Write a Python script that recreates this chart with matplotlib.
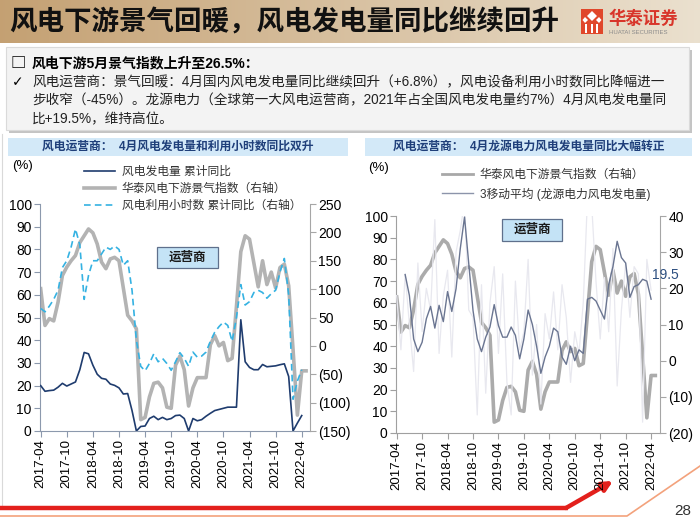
import matplotlib
matplotlib.use("Agg")
import matplotlib.pyplot as plt
import numpy as np
import pandas as pd
from matplotlib.lines import Line2D
from matplotlib.patches import Polygon, Rectangle
from matplotlib.ticker import FuncFormatter, MultipleLocator

plt.rcParams["font.family"] = ["Liberation Sans", "Noto Sans CJK SC", "DejaVu Sans"]

# monthly axis, 2017-04 .. 2022-05
months = pd.date_range("2017-04-01", "2022-05-01", freq="MS")
tick_labels = [d.strftime("%Y-%m") for d in months[::6]]

# 风电发电量 累计同比 (%), 2017-04 .. 2022-04
gen_yoy = [20, 17.5, 17.8, 18, 19.3, 21, 19.8, 20.7, 21.6, 27,
           34.6, 34, 29, 25, 23.2, 22.8, 20.7, 20.1, 19, 16.3,
           16.5, 9, 0, 2, 2.2, 5.5, 6.5, 5, 6, 5,
           5.5, 6.8, 7, 5.5, 0, 5.5, 4.5, 5, 6.5, 7.8,
           9, 9.5, 10, 10.5, 10.5, 10.5, 49, 30.5, 28, 27,
           27, 29.3, 28.3, 28.5, 28.7, 29.2, 29.6, 24, 0, 3.5,
           6.8]

# 华泰风电下游景气指数, 2017-04 .. 2022-05
wind_index = [62.7, 46.5, 49.5, 48.5, 56.8, 68.5, 72.2, 75, 77.3, 83,
              86, 89, 87.3, 82.4, 74.4, 71.5, 75.8, 76.5, 75, 63,
              51, 48.5, 45, 5, 6, 15, 21, 21.5, 19, 10.5,
              10, 29, 33, 27, 11, 19, 23.5, 23.5, 23.5, 38,
              42, 37.5, 39, 31, 32, 55, 79, 86, 84.5, 74,
              63.5, 75, 64.5, 70, 63, 72, 73.5, 64, 36, 7,
              26.5, 26.5]

# 风电利用小时数 累计同比 (%, right axis), 2017-04 .. 2022-04
hours_yoy = [66, 60, 70, 82, 98, 138, 150, 174, 206, 178,
             82, 124, 150, 150, 162, 174, 170, 176, 170, 142,
             150, 98, 10, -36, -44, -31, -14, -28, -22, -31,
             -43, -28, -12, -22, -36, -11, -20, -18, -11, 8,
             24, 34, 42, 36, 8, 50, 108, 72, 78, 94,
             98, 94, 84, 92, 98, 130, 154, 90, -94, -62,
             -42]

# 龙源电力风电发电量 同比 (%), monthly and 3-month moving average
longyuan_yoy = [18, 3, 24, 10, -3, 27, 8, 20, 14, 39,
                2, 18, 25, 1, 30, 36, 44, 14, 12, -15,
                21, -9, 16, 26, 2, 24, -6, -15, 22, 3,
                8, 28, -4, 10, -12, 13, 6, 19, 3, 21,
                12, -6, 8, 2, 16, 45, 43, 22, 6, 23,
                8, 31, -7, 14, 27, 12, 26, 24, -17, 28,
                19.5]
longyuan_ma3 = [np.nan, np.nan, 23.8, 18, 6, 2.5, 5.1, 11.6, 15, 9,
                15.3, 10.8, 19.1, 13.6, 19.9, 31, 39.7, 26.8, 13.9, 6,
                2.5, 6.5, 9.3, 15.5, 9.7, 6.5, 6.5, 9.3, 7, 0.5,
                6, 14, 10, 4, -3.5, 1, 4, 9, 8, 1,
                -1, 4, 0, 3, 2, 17, 17.5, 16.5, 14, 11.5,
                21, 26, 33, 28.5, 27, 17.5, 20.5, 21, 22.5, 22,
                17]

W, H = 700, 525
fig = plt.figure(figsize=(7, 5.25), dpi=100)

bg = fig.add_axes([0, 0, 1, 1])
bg.axis("off")


def axes_px(x0, y0, x1, y1):
    ax = fig.add_axes([x0 / W, 1 - y1 / H, (x1 - x0) / W, (y1 - y0) / H])
    ax.patch.set_visible(False)
    return ax


def paren_fmt(v, _):
    return f"({abs(int(v))})" if v < 0 else f"{int(v)}"


def style_axes(ax, axr):
    for a in (ax, axr):
        a.spines["top"].set_visible(False)
    axr.spines["left"].set_visible(False)
    axr.spines["bottom"].set_visible(False)
    ax.spines["right"].set_visible(False)
    ax.spines["left"].set_color("#8c99ad")
    ax.spines["bottom"].set_color("#8c99ad")
    axr.spines["right"].set_color("#a6a6a6")
    ax.tick_params(axis="y", length=4, color="#8c99ad", labelsize=10, pad=2)
    ax.tick_params(axis="x", length=4, color="#8c99ad", labelsize=9.5, pad=2)
    axr.tick_params(axis="y", length=4, color="#a6a6a6", labelsize=10, pad=2)
    ax.set_xticks(range(0, len(months), 6))
    ax.set_xticklabels(tick_labels, rotation=90)
    ax.set_ylim(0, 100)
    ax.yaxis.set_major_locator(MultipleLocator(10))
    axr.yaxis.set_major_formatter(FuncFormatter(paren_fmt))


# ---------- header ----------
grad = np.linspace(0, 1, 256)[None, :, None]
c0 = np.array([0.77, 0.63, 0.45])
c1 = np.array([0.92, 0.88, 0.81])
bg.imshow(c0 + (c1 - c0) * grad, extent=(0, 700, 43, 0), aspect="auto", zorder=0)
bg.text(9, 22, "风电下游景气回暖，风电发电量同比继续回升", fontsize=19.8,
        fontweight="bold", va="center", ha="left", color="#111111")

# logo
bg.add_patch(Rectangle((581, 9), 22, 25, fc="#e0472b", ec="none"))
bg.add_patch(Polygon([(592, 11), (597, 16), (592, 21), (587, 16)], fc="white"))
bg.add_patch(Polygon([(585, 17), (588, 20), (585, 23), (582.5, 20)], fc="white"))
bg.add_patch(Polygon([(599, 17), (601.5, 20), (599, 23), (596, 20)], fc="white"))
for bx in (585, 590.5, 596):
    bg.add_patch(Rectangle((bx, 24), 2, 9, fc="white", ec="none"))
bg.text(608, 18, "华泰证券", fontsize=12.5, fontweight="bold", color="#d8352a",
        va="center", ha="left")
bg.text(609, 32, "HUATAI SECURITIES", fontsize=4.3, color="#8a8a8a",
        va="center", ha="left")

# ---------- bullet box ----------
bg.add_patch(Rectangle((9, 50), 683, 83, fc="#c4c4c4", ec="none"))
bg.add_patch(Rectangle((6, 47), 683, 83, fc="#f3f3f3", ec="#dadada", lw=0.8))
bg.text(11, 63, "□", fontsize=11, fontweight="bold", va="center",
        family=["Noto Sans CJK SC", "DejaVu Sans"])
bg.text(32, 63, "风电下游5月景气指数上升至26.5%：", fontsize=10, fontweight="bold",
        va="center")
bg.text(12, 82, "✓", fontsize=10, va="center", family=["DejaVu Sans"])
lines = ["风电运营商：景气回暖：4月国内风电发电量同比继续回升（+6.8%），风电设备利用小时数同比降幅进一",
         "步收窄（-45%）。龙源电力（全球第一大风电运营商，2021年占全国风电发电量约7%）4月风电发电量同",
         "比+19.5%，维持高位。"]
for i, s in enumerate(lines):
    bg.text(32, 82 + 18.5 * i, s, fontsize=9.8, va="center", color="#222222")

# ---------- panel titles ----------
bg.plot([2, 2], [134, 505], color="#d9d9d9", lw=0.8)
for (x0, x1), title in zip([(8, 348), (365, 692)],
                           ["风电运营商：  4月风电发电量和利用小时数同比双升",
                            "风电运营商：  4月龙源电力风电发电量同比大幅转正"]):
    bg.add_patch(Rectangle((x0, 138), x1 - x0, 18, fc="#d3e9f8", ec="none"))
    bg.text((x0 + x1) / 2, 147, title, fontsize=8.5, fontweight="bold",
            color="#1f3f7a", ha="center", va="center")

bg.text(12, 166, "(%)", fontsize=9.5, va="center")
bg.text(368, 168, "(%)", fontsize=9.5, va="center")

for (x0, y0, w, h) in [(157, 247, 61, 21), (502, 219, 60, 22)]:
    bg.add_patch(Rectangle((x0, y0), w, h, fc="#c4e3f6", ec="#5f708c", lw=0.9))
    bg.text(x0 + w / 2, y0 + h / 2, "运营商", fontsize=9, fontweight="bold",
            ha="center", va="center", color="#1a1a1a")

# ---------- bottom decoration ----------
bg.plot([0, 568], [508, 508], color="#e3201c", lw=3.2, solid_capstyle="butt")
bg.annotate("", xy=(613, 481), xytext=(566, 508),
            arrowprops=dict(arrowstyle="-|>", color="#e3201c", lw=3.2,
                            mutation_scale=14, shrinkA=0, shrinkB=0))
bg.plot([0, 627, 700], [516, 516, 466], color="#f3a27c", lw=1.2)
bg.text(683, 511, "28", fontsize=11, ha="center", va="center", color="#333333")

bg.set_xlim(0, W)
bg.set_ylim(H, 0)

# ---------- left chart ----------
ax1 = axes_px(40, 204, 310, 431)
ax1.plot(np.arange(len(wind_index)), wind_index, color="#b3b3b3", lw=2.6, zorder=2)
ax1.plot(np.arange(len(gen_yoy)), gen_yoy, color="#1f3c6e", lw=1.2, zorder=3)
ax1r = ax1.twinx()
ax1r.patch.set_visible(False)
ax1r.plot(np.arange(len(hours_yoy)), hours_yoy, color="#35b2e2", lw=1.2,
          ls=(0, (4, 2.5)))
ax1.set_xlim(-0.15, 61.9)
ax1r.set_ylim(-150, 250)
ax1r.yaxis.set_major_locator(MultipleLocator(50))
style_axes(ax1, ax1r)

handles1 = [Line2D([], [], color="#1f3c6e", lw=1.2),
            Line2D([], [], color="#b3b3b3", lw=2.6),
            Line2D([], [], color="#35b2e2", lw=1.2, ls=(0, (4, 2.5)))]
labels1 = ["风电发电量 累计同比", "华泰风电下游景气指数（右轴）", "风电利用小时数 累计同比（右轴）"]
fig.legend(handles1, labels1, loc="upper left", bbox_to_anchor=(84 / W, 1 - 166 / H),
           frameon=False, fontsize=8.5, handlelength=2.6, labelspacing=0.42,
           borderpad=0, borderaxespad=0, handletextpad=0.6, labelcolor="#333333")

# ---------- right chart ----------
ax2 = axes_px(396, 216, 660, 433)
ax2.plot(np.arange(len(wind_index)), wind_index, color="#ababab", lw=2.6, zorder=2)
ax2r = ax2.twinx()
ax2r.patch.set_visible(False)
ax2r.plot(np.arange(len(longyuan_yoy)), longyuan_yoy, color="#e8e8ef", lw=0.9)
ax2r.plot(np.arange(len(longyuan_ma3)), longyuan_ma3, color="#6a7591", lw=1.0)
ax2r.text(len(longyuan_yoy) - 1 + 0.2, longyuan_yoy[-1] + 4.2, f"{longyuan_yoy[-1]}",
          fontsize=10, color="#2d4f80", ha="left", va="center")
ax2.set_xlim(-0.16, 62.1)
ax2r.set_ylim(-20, 40)
ax2r.yaxis.set_major_locator(MultipleLocator(10))
style_axes(ax2, ax2r)
ax2.spines["left"].set_color("#a0a0a0")
ax2.spines["bottom"].set_color("#a0a0a0")
ax2.tick_params(color="#a0a0a0")

handles2 = [Line2D([], [], color="#a8a8a8", lw=2.0),
            Line2D([], [], color="#8c94aa", lw=1.0)]
labels2 = ["华泰风电下游景气指数（右轴）", "3移动平均 (龙源电力风电发电量)"]
fig.legend(handles2, labels2, loc="upper left", bbox_to_anchor=(442 / W, 1 - 169 / H),
           frameon=False, fontsize=8.5, handlelength=2.6, labelspacing=0.55,
           borderpad=0, borderaxespad=0, handletextpad=0.6, labelcolor="#333333")

fig.savefig("out.png", dpi=100)
